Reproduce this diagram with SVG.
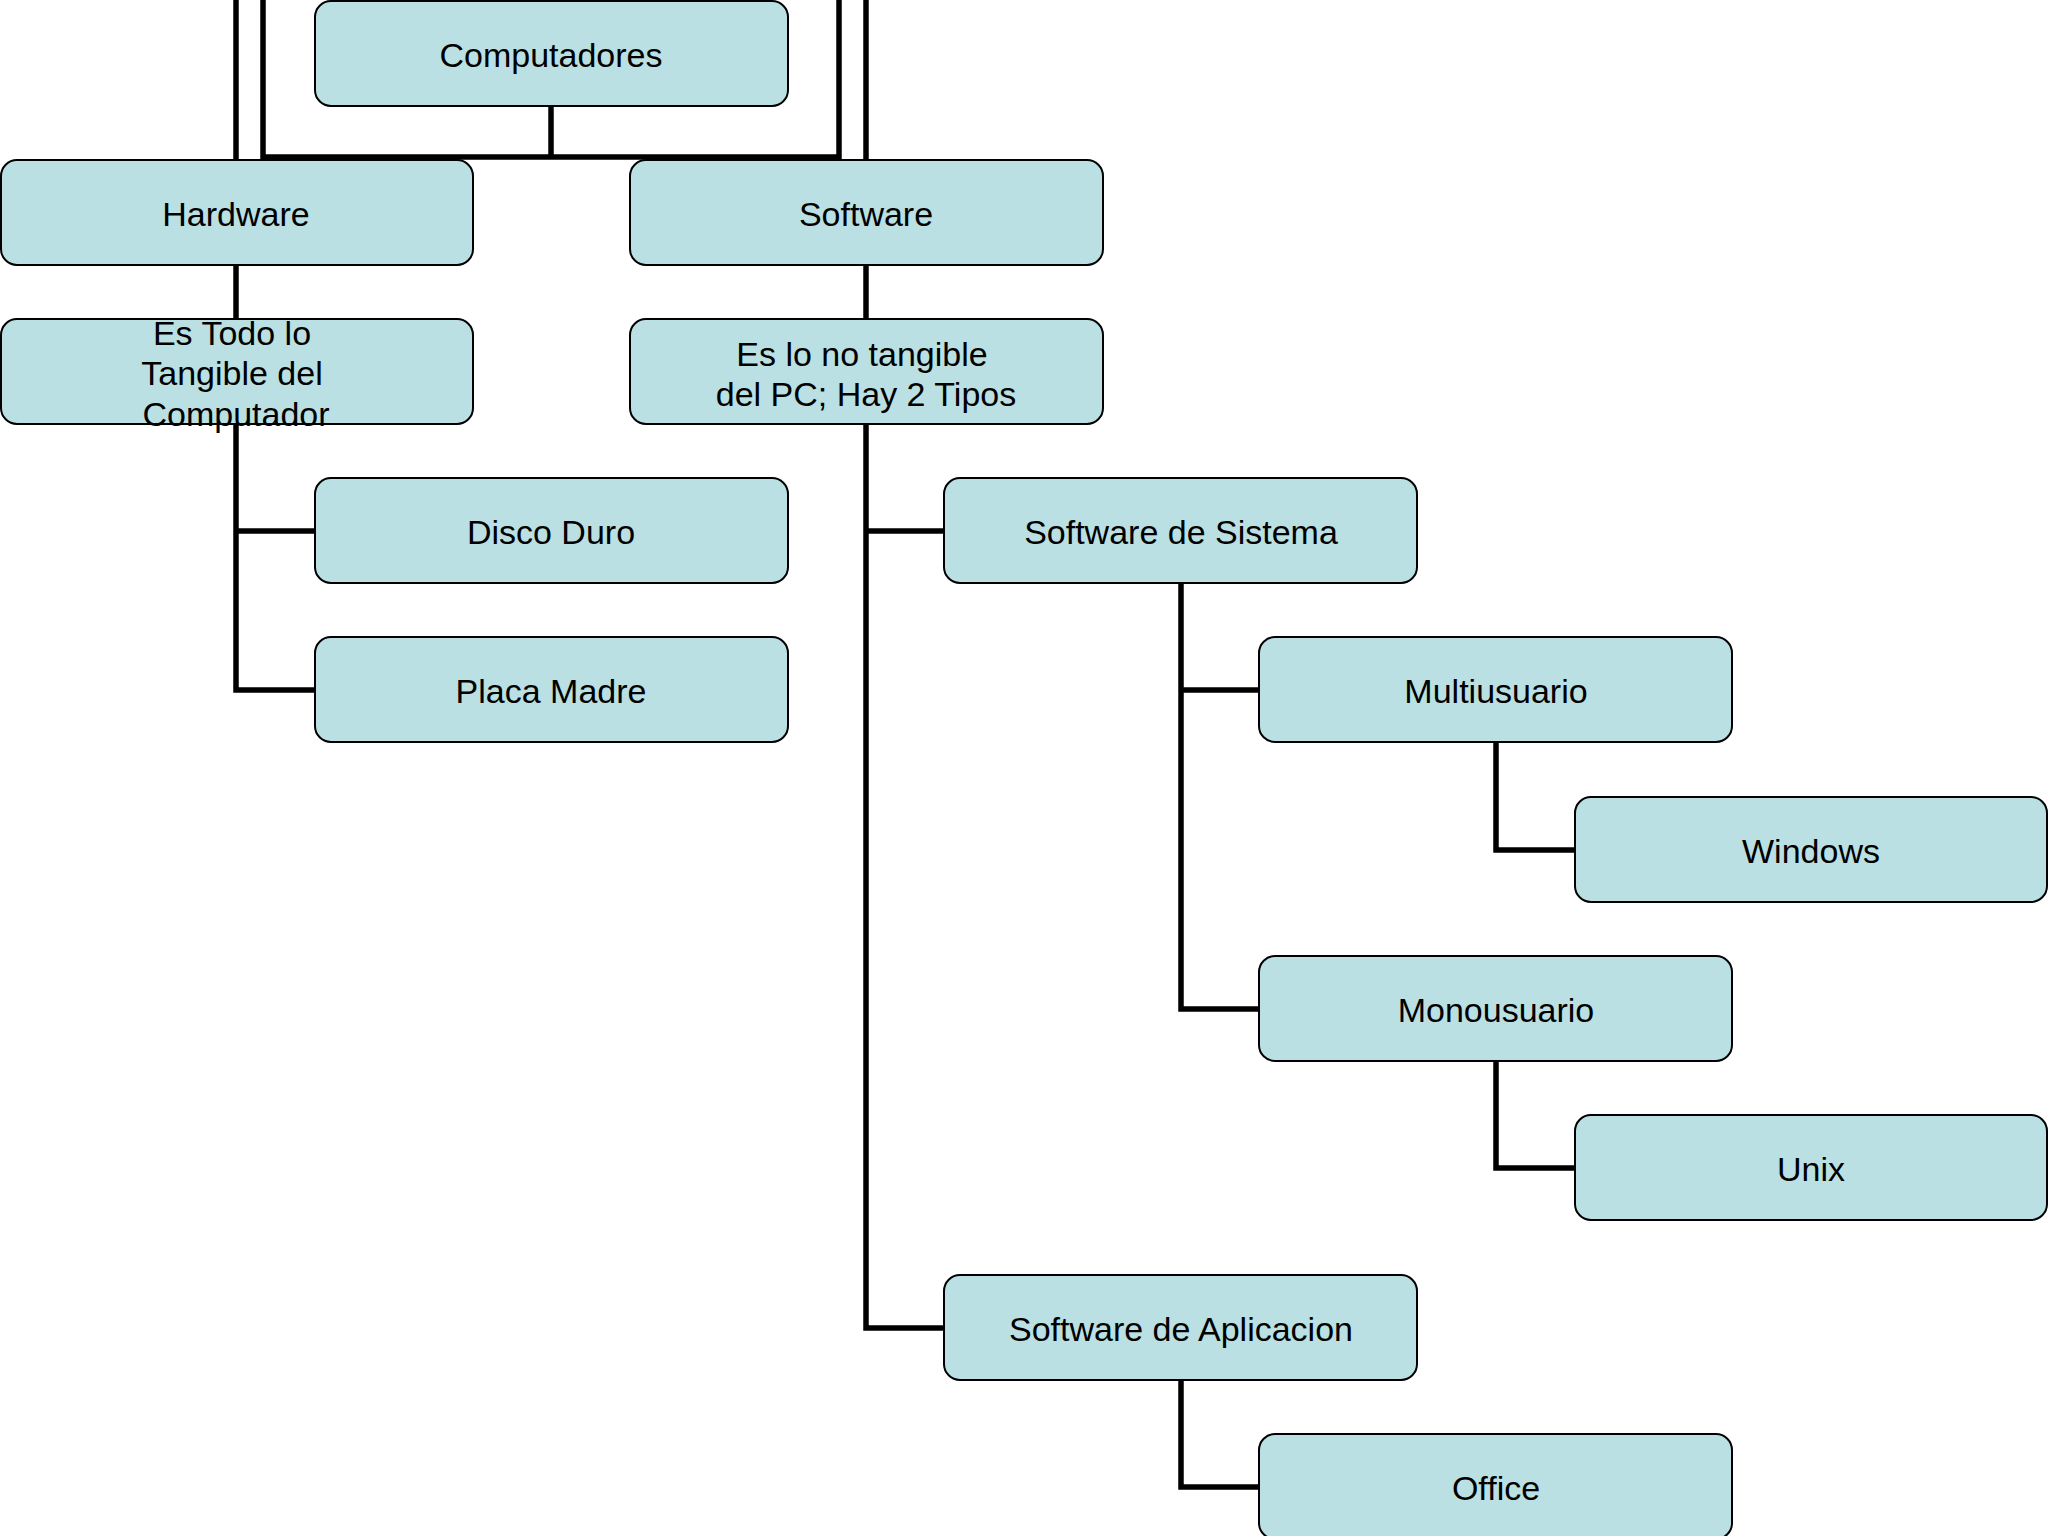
<svg xmlns="http://www.w3.org/2000/svg" width="2048" height="1536" viewBox="0 0 2048 1536">
<style>
.box{fill:#bae0e3;stroke:#000;stroke-width:2}
.lbl{font-family:"Liberation Sans",Arial,sans-serif;font-size:34px;fill:#000;text-anchor:middle}
.con{fill:none;stroke:#000;stroke-width:5.5;stroke-linejoin:miter;stroke-linecap:butt}
</style>
<rect width="2048" height="1536" fill="#fff"/>
<g id="connectors">
<path class="con" d="M236 0 V159"/>
<path class="con" d="M866 0 V159"/>
<path class="con" d="M263 0 V157 H839 V0"/>
<path class="con" d="M551 106 V157"/>
<path class="con" d="M236 265 V319"/>
<path class="con" d="M866 265 V319"/>
<path class="con" d="M236 424 V690 H315"/>
<path class="con" d="M236 531 H315"/>
<path class="con" d="M866 424 V1328 H944"/>
<path class="con" d="M866 531 H944"/>
<path class="con" d="M1181 584 V1009 H1259"/>
<path class="con" d="M1181 690 H1259"/>
<path class="con" d="M1496 743 V850 H1575"/>
<path class="con" d="M1496 1062 V1168 H1575"/>
<path class="con" d="M1181 1381 V1487 H1259"/>
</g>
<g id="computadores"><rect class="box" x="315" y="1" width="473" height="105" rx="16"/><text class="lbl" x="551" y="67">Computadores</text></g>
<g id="hardware"><rect class="box" x="1" y="160" width="472" height="105" rx="16"/><text class="lbl" x="236" y="226">Hardware</text></g>
<g id="software"><rect class="box" x="630" y="160" width="473" height="105" rx="16"/><text class="lbl" x="866" y="226">Software</text></g>
<g id="es-todo"><rect class="box" x="1" y="319" width="472" height="105" rx="16"/><text class="lbl"><tspan x="232" y="345">Es Todo lo</tspan><tspan x="232" y="385">Tangible del</tspan><tspan x="236" y="426">Computador</tspan></text></g>
<g id="es-lo-no-tangible"><rect class="box" x="630" y="319" width="473" height="105" rx="16"/><text class="lbl"><tspan x="862" y="366">Es lo no tangible</tspan><tspan x="866" y="406">del PC; Hay 2 Tipos</tspan></text></g>
<g id="disco-duro"><rect class="box" x="315" y="478" width="473" height="105" rx="16"/><text class="lbl" x="551" y="544">Disco Duro</text></g>
<g id="placa-madre"><rect class="box" x="315" y="637" width="473" height="105" rx="16"/><text class="lbl" x="551" y="703">Placa Madre</text></g>
<g id="software-de-sistema"><rect class="box" x="944" y="478" width="473" height="105" rx="16"/><text class="lbl" x="1181" y="544">Software de Sistema</text></g>
<g id="multiusuario"><rect class="box" x="1259" y="637" width="473" height="105" rx="16"/><text class="lbl" x="1496" y="703">Multiusuario</text></g>
<g id="windows"><rect class="box" x="1575" y="797" width="472" height="105" rx="16"/><text class="lbl" x="1811" y="863">Windows</text></g>
<g id="monousuario"><rect class="box" x="1259" y="956" width="473" height="105" rx="16"/><text class="lbl" x="1496" y="1022">Monousuario</text></g>
<g id="unix"><rect class="box" x="1575" y="1115" width="472" height="105" rx="16"/><text class="lbl" x="1811" y="1181">Unix</text></g>
<g id="software-de-aplicacion"><rect class="box" x="944" y="1275" width="473" height="105" rx="16"/><text class="lbl" x="1181" y="1341">Software de Aplicacion</text></g>
<g id="office"><rect class="box" x="1259" y="1434" width="473" height="105" rx="16"/><text class="lbl" x="1496" y="1500">Office</text></g>
</svg>
